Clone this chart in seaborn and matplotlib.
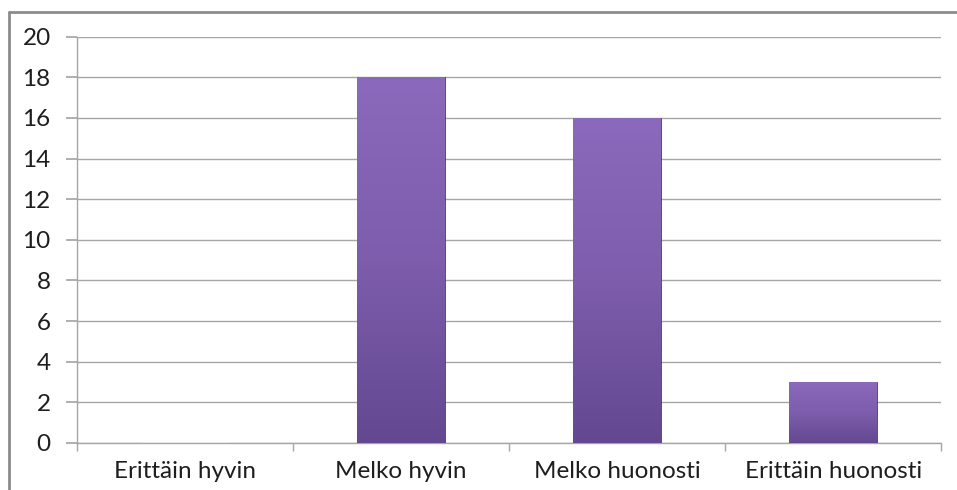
import matplotlib
matplotlib.use("Agg")
import matplotlib.pyplot as plt
import matplotlib.colors as mcolors
import seaborn as sns
import numpy as np
import pandas as pd

# ── Data ─────────────────────────────────────────────────────────────────────
CATEGORIES = ["Erittäin hyvin", "Melko hyvin", "Melko huonosti", "Erittäin huonosti"]
VALUES     = [0, 18, 16, 3]
Y_TICKS    = list(range(0, 21, 2))

GRID   = "#a6a6a6"
TOP_C  = "#8b69bc"
MID_C  = "#7d5dac"
BOT_C  = "#634891"

sns.set_theme(style="white")
plt.rcParams["font.family"] = ["Lato", "DejaVu Sans"]

df = pd.DataFrame({"category": CATEGORIES, "value": VALUES})

fig = plt.figure(figsize=(9.57, 4.9), dpi=100)
ax = fig.add_axes([0.0805, 0.096, 0.903, 0.829])

sns.barplot(data=df, x="category", y="value", color=MID_C, width=0.405,
            saturation=1, ax=ax, zorder=3)

# vertical gradient fill clipped to each bar
cmap = mcolors.LinearSegmentedColormap.from_list("bar", [BOT_C, MID_C, TOP_C])
grad = np.linspace(0, 1, 256).reshape(-1, 1)
for p in ax.patches:
    x0, y0 = p.get_x(), p.get_y()
    w, h = p.get_width(), p.get_height()
    if h <= 0:
        continue
    p.set_edgecolor("#4e3873")
    p.set_linewidth(0.6)
    im = ax.imshow(grad, cmap=cmap, origin="lower", aspect="auto",
                   extent=(x0, x0 + w, y0, y0 + h), zorder=3.5)
    im.set_clip_path(p)

ax.set_xlim(-0.5, 3.5)
ax.set_ylim(0, 20)
ax.set_yticks(Y_TICKS)
ax.set_xticks([-0.5, 0.5, 1.5, 2.5, 3.5], minor=True)
ax.set_xticks(range(len(CATEGORIES)))
ax.set_xticklabels(CATEGORIES)
ax.set_xlabel("")
ax.set_ylabel("")

ax.yaxis.grid(True, color=GRID, linewidth=1)
ax.set_axisbelow(True)
for s in ["top", "right"]:
    ax.spines[s].set_visible(False)
for s in ["left", "bottom"]:
    ax.spines[s].set_color(GRID)
    ax.spines[s].set_linewidth(1)

ax.tick_params(axis="y", which="major", left=True, length=8, color=GRID,
               labelsize=17.5, labelcolor="#1e1e1e", pad=11)
ax.tick_params(axis="x", which="major", bottom=False, labelsize=17.5,
               labelcolor="#1e1e1e", pad=7)
ax.tick_params(axis="x", which="minor", bottom=True, length=6, color=GRID)

# outer chart frame (left and top edges visible)
fig.add_artist(plt.Line2D([0.0094, 0.0094], [0, 0.9755], transform=fig.transFigure,
                          color="#8c8c8c", linewidth=2))
fig.add_artist(plt.Line2D([0.0094, 1.0], [0.9755, 0.9755], transform=fig.transFigure,
                          color="#8c8c8c", linewidth=2))

fig.savefig("out.png", dpi=100)
